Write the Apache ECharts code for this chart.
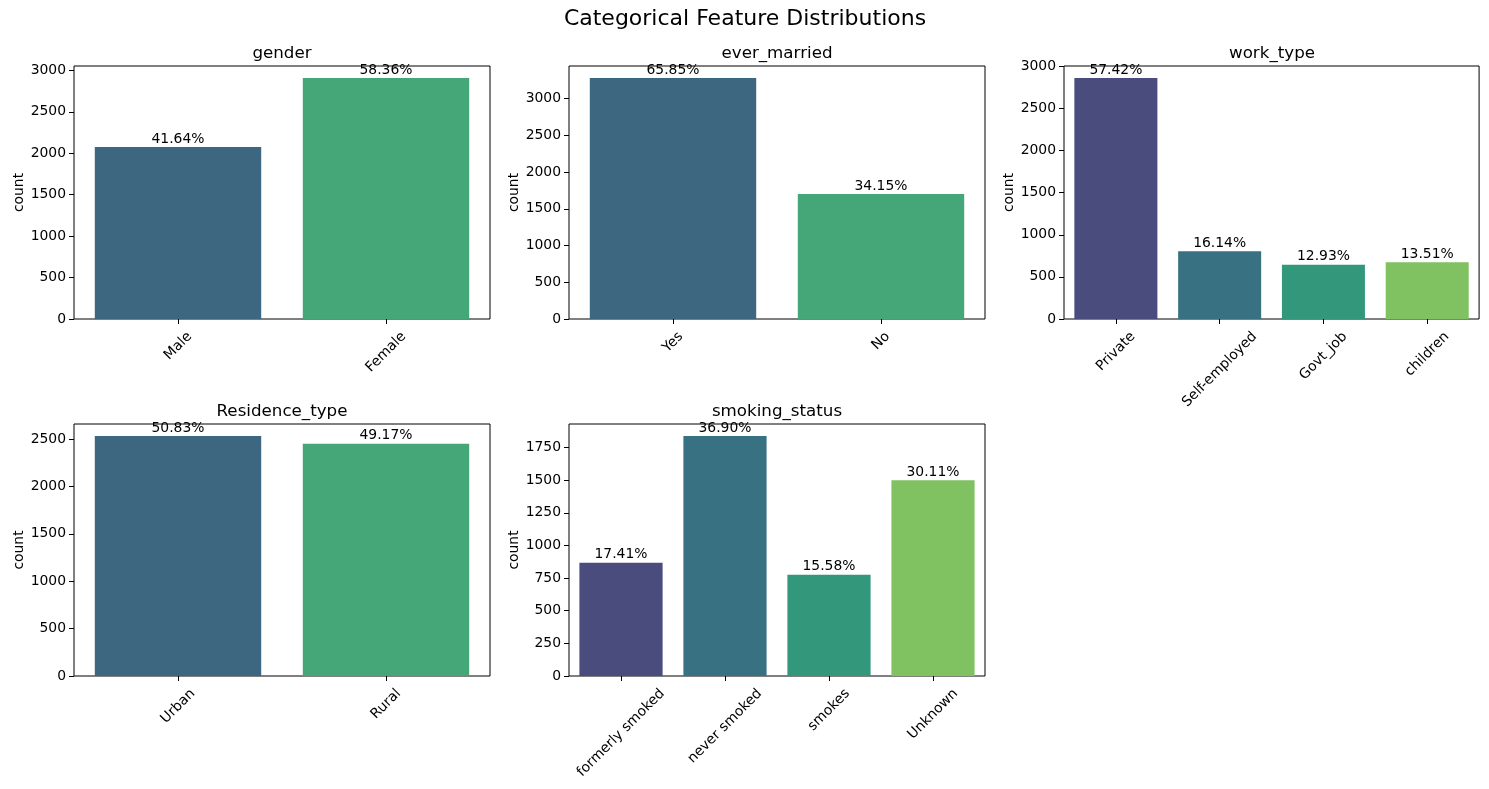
<!DOCTYPE html>
<html>
<head>
<meta charset="utf-8">
<script src="https://cdn.jsdelivr.net/npm/echarts@6/dist/echarts.min.js"></script>
<style>html,body{margin:0;padding:0;background:#fff}#c{width:1489px;height:789px}</style>
</head>
<body>
<div id="c"></div>
<script>
// ---- data ----
const genderCats = ['Male', 'Female'];
const genderCounts = [2074, 2907];
const genderLabels = ['41.64%', '58.36%'];

const marriedCats = ['Yes', 'No'];
const marriedCounts = [3280, 1701];
const marriedLabels = ['65.85%', '34.15%'];

const workCats = ['Private', 'Self-employed', 'Govt_job', 'children'];
const workCounts = [2860, 804, 644, 673];
const workLabels = ['57.42%', '16.14%', '12.93%', '13.51%'];

const residenceCats = ['Urban', 'Rural'];
const residenceCounts = [2532, 2449];
const residenceLabels = ['50.83%', '49.17%'];

const smokingCats = ['formerly smoked', 'never smoked', 'smokes', 'Unknown'];
const smokingCounts = [867, 1838, 776, 1500];
const smokingLabels = ['17.41%', '36.90%', '15.58%', '30.11%'];

const genderTicks = [0, 500, 1000, 1500, 2000, 2500, 3000];
const marriedTicks = [0, 500, 1000, 1500, 2000, 2500, 3000];
const workTicks = [0, 500, 1000, 1500, 2000, 2500, 3000];
const residenceTicks = [0, 500, 1000, 1500, 2000, 2500];
const smokingTicks = [0, 250, 500, 750, 1000, 1250, 1500, 1750];

const titles = ['gender', 'ever_married', 'work_type', 'Residence_type', 'smoking_status'];

// ---- styles ----
const palette2 = ['#3d6681', '#45a778'];
const palette4 = ['#4a4c7e', '#377182', '#33977c', '#80c161'];
const FONT = '"DejaVu Sans", sans-serif';
const FS = 13.9;

const panels = [
  {cats: genderCats, counts: genderCounts, labels: genderLabels, ticks: genderTicks, step: 500, pal: palette2},
  {cats: marriedCats, counts: marriedCounts, labels: marriedLabels, ticks: marriedTicks, step: 500, pal: palette2},
  {cats: workCats, counts: workCounts, labels: workLabels, ticks: workTicks, step: 500, pal: palette4},
  {cats: residenceCats, counts: residenceCounts, labels: residenceLabels, ticks: residenceTicks, step: 500, pal: palette2},
  {cats: smokingCats, counts: smokingCounts, labels: smokingLabels, ticks: smokingTicks, step: 250, pal: palette4}
];
const gridPos = [
  {left: 74, top: 66, width: 416, height: 253},
  {left: 569, top: 66, width: 416, height: 253},
  {left: 1064, top: 66, width: 416, height: 253},
  {left: 74, top: 424, width: 416, height: 252},
  {left: 569, top: 424, width: 416, height: 252}
];

const cv = document.createElement('canvas').getContext('2d');
cv.font = FS + 'px ' + FONT;
function richFor(cats) {
  const rich = {};
  cats.forEach((c, i) => {
    const w = cv.measureText(c).width;
    const h = 16.2;
    const D = 9.7 + (w + h) / (2 * Math.SQRT2);
    const P = D * Math.SQRT2;
    rich['l' + i] = {fontSize: FS, fontFamily: FONT, color: '#000', lineHeight: 16, padding: [P, P, 0, 0]};
  });
  return rich;
}

const option = {
  animation: false,
  backgroundColor: '#fff',
  title: [{
    text: 'Categorical Feature Distributions', left: 745, top: 8, textAlign: 'center', padding: 0,
    textStyle: {fontSize: 22, fontWeight: 'normal', fontFamily: FONT, color: '#000'}
  }].concat(titles.map((t, i) => ({
    text: t, left: gridPos[i].left + gridPos[i].width / 2, top: gridPos[i].top - 21, textAlign: 'center', padding: 0,
    textStyle: {fontSize: 16.7, fontWeight: 'normal', fontFamily: FONT, color: '#000'}
  }))),
  grid: gridPos.map(g => Object.assign({show: true, borderColor: '#000', borderWidth: 1, backgroundColor: 'transparent', containLabel: false}, g)),
  xAxis: panels.map((p, i) => ({
    type: 'category', gridIndex: i, data: p.cats,
    axisLine: {show: false},
    axisTick: {show: true, alignWithLabel: true, length: 5, lineStyle: {color: '#000', width: 1}},
    axisLabel: {
      interval: 0, rotate: 45, margin: 0, align: 'center', verticalAlign: 'middle',
      formatter: (v, idx) => '{l' + idx + '|' + v + '}',
      rich: richFor(p.cats)
    }
  })),
  yAxis: panels.map((p, i) => ({
    type: 'value', gridIndex: i, min: 0, max: Math.max.apply(null, p.counts) * 1.05, interval: p.step,
    name: 'count', nameLocation: 'middle', nameGap: 46, nameRotate: 90,
    nameTextStyle: {fontSize: FS, fontFamily: FONT, color: '#000'},
    splitLine: {show: false},
    axisLine: {show: false},
    axisTick: {show: true, length: 5, lineStyle: {color: '#000', width: 1}, customValues: p.ticks},
    axisLabel: {fontSize: FS, fontFamily: FONT, color: '#000', margin: 8, customValues: p.ticks,
      formatter: (v) => String(v)}
  })),
  series: panels.map((p, i) => ({
    type: 'bar', xAxisIndex: i, yAxisIndex: i, barCategoryGap: '20%',
    data: p.counts.map((v, j) => ({value: v, itemStyle: {color: p.pal[j]}})),
    label: {
      show: true, position: 'top', distance: 1, color: '#000', fontSize: FS, fontFamily: FONT,
      formatter: (d) => p.labels[d.dataIndex]
    }
  }))
};

const chart = echarts.init(document.getElementById('c'), null, {renderer: 'canvas'});
chart.setOption(option);
</script>
</body>
</html>
